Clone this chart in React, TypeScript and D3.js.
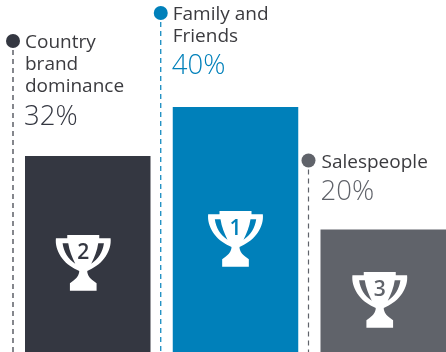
import React from "react";
import * as d3 from "d3";

const categories = ["Country brand dominance", "Family and Friends", "Salespeople"];
const labelLines = [["Country", "brand", "dominance"], ["Family and", "Friends"], ["Salespeople"]];
const values = [32, 40, 20];
const ranks = [2, 1, 3];
const colors = ["#343741", "#0080ba", "#60636a"];

const W = 446, H = 352;
const trophyDx = [-4.5, 0, -3.5];
const trophyTop = [235, 211, 272];
const pctGap = [31, 33, 30];
const labelGap = [33, 32, 32];

const x = d3.scaleBand<string>().domain(categories).range([25, W]).paddingInner(0.1506);
const y = d3.scaleLinear().domain([0, 40]).range([H, 107]);

const trophy =
  "M82 45H178V55H212C216 92 190 132 148 150L142 153C142 165 150 175 160 182L170 190V212H90V190L100 182C110 175 118 165 118 153L112 150C70 132 44 92 48 55H82Z" +
  "M68 70C71 95 85 118 106 131C97 113 88 92 85 70Z" +
  "M192 70C189 95 175 118 154 131C163 113 172 92 175 70Z";

export default function App() {
  return (
    <svg width={W} height={H} style={{ position: "fixed", left: 0, top: 0, fontFamily: "'Open Sans'" }}>
      {categories.map((c, i) => {
        const bx = x(c)!;
        const top = y(values[i]);
        const bw = x.bandwidth();
        const lines = labelLines[i];
        const pctBase = top - pctGap[i];
        const firstBase = pctBase - labelGap[i] - 22 * (lines.length - 1);
        const dotX = bx - 12;
        const dotY = firstBase - 7;
        const cx = bx + bw / 2 + trophyDx[i];
        const tt = trophyTop[i];
        const textX = i === 2 ? bx + 1 : bx;
        return (
          <g key={c}>
            <line x1={dotX} x2={dotX} y1={dotY} y2={H} stroke={colors[i]} strokeWidth={1.2} strokeDasharray="5 4" />
            <circle cx={dotX} cy={dotY} r={7} fill={colors[i]} />
            {lines.map((l, j) => (
              <text key={l} x={textX} y={firstBase + 22 * j} fontSize={19} fill="#3b3b3f">{l}</text>
            ))}
            <text x={textX - 1} y={pctBase} fontSize={27.5} fontWeight={300} fill={colors[i]}>{values[i]}%</text>
            <rect x={bx} y={top} width={bw} height={H - top} fill={colors[i]} />
            <g transform={`translate(${cx - 130 / 3},${tt - 15}) scale(${1 / 3})`}>
              <path d={trophy} fill="#fff" fillRule="evenodd" />
            </g>
            <text x={cx} y={tt + 24} textAnchor="middle" fontSize={21} fontWeight={600} fill={colors[i]}>{ranks[i]}</text>
          </g>
        );
      })}
    </svg>
  );
}
